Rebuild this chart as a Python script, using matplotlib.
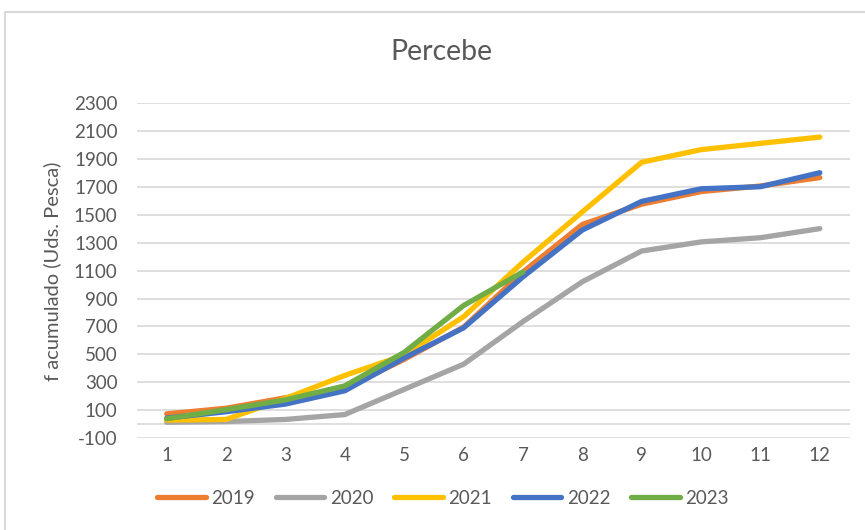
import matplotlib
matplotlib.use("Agg")
import matplotlib.pyplot as plt
from matplotlib.patches import Rectangle

# Meses y capturas acumuladas por año
meses = [1, 2, 3, 4, 5, 6, 7, 8, 9, 10, 11, 12]
v2019 = [75, 115, 190, 255, 465, 695, 1090, 1430, 1575, 1665, 1705, 1765]
v2020 = [15, 20, 35, 70, 250, 430, 735, 1020, 1240, 1305, 1335, 1400]
v2021 = [30, 35, 185, 350, 495, 770, 1160, 1520, 1875, 1965, 2010, 2055]
v2022 = [45, 90, 145, 240, 475, 690, 1055, 1390, 1595, 1685, 1700, 1800]
v2023 = [40, 105, 175, 275, 515, 850, 1090]

series = [
    ("2019", v2019, "#ED7D31"),
    ("2020", v2020, "#A5A5A5"),
    ("2021", v2021, "#FFC000"),
    ("2022", v2022, "#4472C4"),
    ("2023", v2023, "#70AD47"),
]

plt.rcParams['font.family'] = ['Lato', 'DejaVu Sans']
plt.rcParams['axes.unicode_minus'] = False
gris_txt = "#595959"
gris_rej = "#D9D9D9"

fig = plt.figure(figsize=(8.65, 5.3), dpi=100)
ax = fig.add_axes([0.1584, 0.173, 0.8237, 0.633])

for nombre, vals, col in series:
    ax.plot(meses[:len(vals)], vals, color=col, lw=3.8, label=nombre,
            solid_capstyle='round', solid_joinstyle='round')

ax.set_xlim(0.5, 12.5)
ax.set_ylim(-100, 2300)
ax.set_xticks(meses)
ax.set_yticks(range(-100, 2301, 200))
ax.grid(axis='y', color=gris_rej, lw=1.2)
ax.axhline(0, color=gris_rej, lw=1.2, zorder=0.5)
ax.set_axisbelow(True)
for s in ax.spines.values():
    s.set_visible(False)
ax.tick_params(length=0, labelsize=13.5, labelcolor=gris_txt)
ax.tick_params(axis='y', pad=14)
ax.tick_params(axis='x', pad=6)

fig.text(441 / 865, 1 - 52 / 530, "Percebe", ha='center', va='center',
         fontsize=20.5, color=gris_txt)
fig.text(52 / 865, 0.4887, "f acumulado (Uds. Pesca)", rotation=90,
         ha='center', va='center', fontsize=14.5, color=gris_txt)

leg = fig.legend(loc='center', bbox_to_anchor=(443 / 865, 1 - 498 / 530),
                 ncol=5, frameon=False, fontsize=13.5, handlelength=2.6,
                 handletextpad=0.3, columnspacing=1.1)
for t in leg.get_texts():
    t.set_color(gris_txt)

# marco del gráfico
fig.patches.append(Rectangle((5 / 865, -0.05), 1.1, 1 - 12 / 530 + 0.05,
                             transform=fig.transFigure, fill=False,
                             edgecolor=gris_rej, lw=1.5))

fig.savefig("out.png", dpi=100)
